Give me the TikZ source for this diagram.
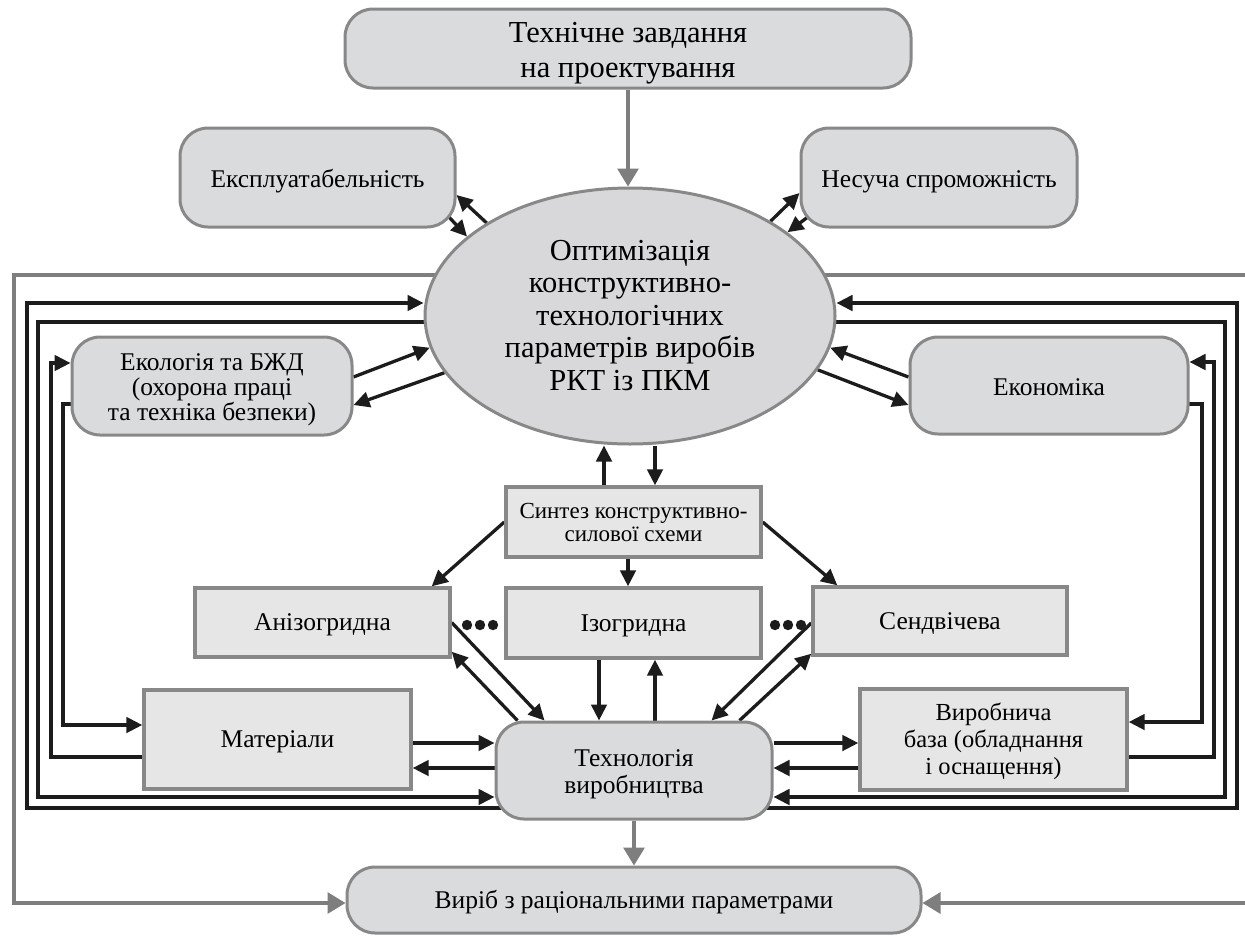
\documentclass[tikz,border=0pt]{standalone}
\usepackage{fontspec}
\setmainfont{Liberation Serif}
\usetikzlibrary{arrows.meta,calc,shapes.geometric,backgrounds}
\definecolor{boxfill}{HTML}{DADBDD}
\definecolor{rectfill}{HTML}{E6E6E6}
\definecolor{ellfill}{HTML}{D8D8DA}
\definecolor{bord}{HTML}{888888}
\definecolor{gline}{HTML}{7E7E7E}
\definecolor{blk}{HTML}{1C1C1C}
\newcommand\tl[2][-4.5pt]{\raisebox{#1}[\height][\depth]{\begin{tabular}{@{}c@{}}#2\end{tabular}}}
\begin{document}
\begin{tikzpicture}[x=1pt,y=-1pt,
  rbox/.style={draw=bord, line width=3pt, fill=boxfill, rounded corners=28pt, inner sep=0pt, text=black, font=\fontsize{25.5}{27}\selectfont},
  sbox/.style={draw=bord, line width=3.4pt, fill=rectfill, inner sep=0pt, text=black, font=\fontsize{25.5}{27}\selectfont},
  arr/.style={draw=blk, line width=3.3pt, -{Triangle[length=16pt,width=15.5pt]}},
  garr/.style={draw=gline, line width=3.2pt, -{Triangle[length=18pt,width=21pt]}},
  gpath/.style={draw=gline, line width=3.2pt}
]
\useasboundingbox (0,0) rectangle (1245,935);

% nodes
\node[rbox, minimum width=566pt, minimum height=79pt, font=\fontsize{30.5}{35}\selectfont] (tz) at (628,48.5) {\tl[-4pt]{Технічне завдання\\на проектування}};
\node[rbox, minimum width=275pt, minimum height=99pt] (ex) at (317.5,177.5) {\tl{Експлуатабельність}};
\node[rbox, minimum width=276pt, minimum height=99pt] (ns) at (939,177.5) {\tl{Несуча спроможність}};
\node[ellipse, draw=bord, line width=3pt, fill=ellfill, minimum width=410pt, minimum height=256pt, inner sep=0pt, font=\fontsize{30.5}{32.5}\selectfont] (ell) at (630,316) {\tl[-2.5pt]{Оптимізація\\конструктивно-\\технологічних\\параметрів виробів\\РКТ із ПКМ}};
\node[rbox, minimum width=280pt, minimum height=98pt, font=\fontsize{25.5}{25}\selectfont] (eco) at (212,386) {\tl{Екологія та БЖД\\(охорона праці\\та техніка безпеки)}};
\node[rbox, minimum width=278pt, minimum height=97pt] (ekn) at (1049,385.5) {\tl{Економіка}};
\node[sbox, minimum width=255pt, minimum height=70pt, font=\fontsize{23}{23}\selectfont] (syn) at (633.5,522) {\tl[-3pt]{Синтез конструктивно-\\силової схеми}};
\node[sbox, minimum width=255pt, minimum height=69pt] (an) at (322.5,622.5) {\tl[-3pt]{Анізогридна}};
\node[sbox, minimum width=255pt, minimum height=70pt] (iz) at (633.5,623) {\tl[-3pt]{Ізогридна}};
\node[sbox, minimum width=254pt, minimum height=68pt] (sd) at (940,621) {\tl[-3pt]{Сендвічева}};
\node[sbox, minimum width=267pt, minimum height=99pt] (mat) at (277.5,739.5) {\tl[-3pt]{Матеріали}};
\node[sbox, minimum width=267pt, minimum height=101pt, font=\fontsize{24.5}{27}\selectfont] (vb) at (993.5,739.5) {\tl[-3pt]{Виробнича\\база (обладнання\\і оснащення)}};
\node[rbox, minimum width=276pt, minimum height=97pt] (tech) at (634,770.5) {\tl{Технологія\\виробництва}};
\node[rbox, minimum width=574pt, minimum height=66pt] (vr) at (634,900) {\tl[-3pt]{Виріб з раціональними параметрами}};

% dots
\foreach \x in {467,480,493} \fill[blk] (\x,625) circle (5.2pt);
\foreach \x in {775,788,801} \fill[blk] (\x,625) circle (5.2pt);

\begin{scope}[on background layer]
% gray flow
\draw[garr] (tz.south) -- (tz.south |- ell.north);
\draw[garr] (tech.south) -- (tech.south |- vr.north);
\draw[garr] (ell.center |- 0,275) -- (14,275) -- (14,903) -- (vr.west |- 0,903);
\draw[gpath] (ell.center |- 0,275) -- (1245,275);
\coordinate (gr) at (1245,903);
\draw[garr] (gr) -- (vr.east |- gr);

% top small boxes
\draw[arr] (ell.147) -- ($(ex.east)+(0,17.5)$);
\draw[arr] ($(ex.south east)+(-8,-12)$) -- (ell.154);
\draw[arr] (ell.34) -- ($(ns.west)+(0,15.5)$);
\draw[arr] ($(ns.south west)+(9,-12)$) -- (ell.28);

% ecology / economy
\draw[arr] ($(eco.east)+(0,-9)$) -- (ell.189);
\draw[arr] (ell.197) -- ($(eco.east)+(0,19)$);
\draw[arr] ($(ekn.west)+(0,-8.5)$) -- (ell.351);
\draw[arr] (ell.344) -- ($(ekn.west)+(0,19.5)$);

% synthesis
\coordinate (s1) at ($(syn.north)+(-29.5,0)$);
\coordinate (s2) at ($(syn.north)+(21.5,0)$);
\draw[arr] (s1) -- (s1 |- ell.south);
\draw[arr] (s2 |- ell.south) -- (s2);
\draw[arr] ($(syn.south)+(-5.5,0)$) -- ($(iz.north)+(-5.5,0)$);
\draw[arr] (syn.west) -- ($(an.north east)+(-20,0)$);
\draw[arr] (syn.east) -- ($(sd.north west)+(26,0)$);

% variants <-> technology
\draw[arr] (an.east) -- ($(tech.north west)+(50,0)$);
\draw[arr] ($(tech.north west)+(23,0)$) -- ($(an.south east)+(0,-7)$);
\draw[arr] ($(sd.west)+(0,2)$) -- ($(tech.north east)+(-62,0)$);
\draw[arr] ($(tech.north east)+(-34,0)$) -- ($(sd.south west)+(0,-3)$);
\coordinate (i1) at ($(iz.south)+(-34.5,0)$);
\coordinate (i2) at ($(iz.south)+(21.5,0)$);
\draw[arr] (i1) -- (i1 |- tech.north);
\draw[arr] (i2 |- tech.north) -- (i2);

% materials / production base
\coordinate (m1) at ($(mat.east)+(0,3.5)$);
\coordinate (m2) at ($(mat.east)+(0,28.5)$);
\draw[arr] (m1) -- (m1 -| tech.west);
\draw[arr] (m2 -| tech.west) -- (m2);
\coordinate (v1) at ($(vb.west)+(0,3.5)$);
\coordinate (v2) at ($(vb.west)+(0,28.5)$);
\draw[arr] (v1 -| tech.east) -- (v1);
\draw[arr] (v2) -- (v2 -| tech.east);

% left loops
\draw[arr] (tech.center |- 0,808) -- (27,808) -- (27,303) -- (ell.west |- 0,303);
\draw[arr] (ell.center |- 0,322) -- (38,322) -- (38,797) -- (tech.west |- 0,797);
\draw[arr] (mat.center |- 0,757) -- (51,757) -- (51,363) -- (eco.west |- 0,363);
\draw[arr] (eco.center |- 0,404) -- (63,404) -- (63,725) -- (mat.west |- 0,725);
% right loops
\draw[arr] (tech.center |- 0,808) -- (1237,808) -- (1237,303) -- (ell.east |- 0,303);
\draw[arr] (ell.center |- 0,322) -- (1225,322) -- (1225,797) -- (tech.east |- 0,797);
\draw[arr] (vb.center |- 0,757) -- (1214,757) -- (1214,362) -- (ekn.east |- 0,362);
\draw[arr] (ekn.center |- 0,404) -- (1202,404) -- (1202,722) -- (vb.east |- 0,722);
\end{scope}
\end{tikzpicture}
\end{document}
